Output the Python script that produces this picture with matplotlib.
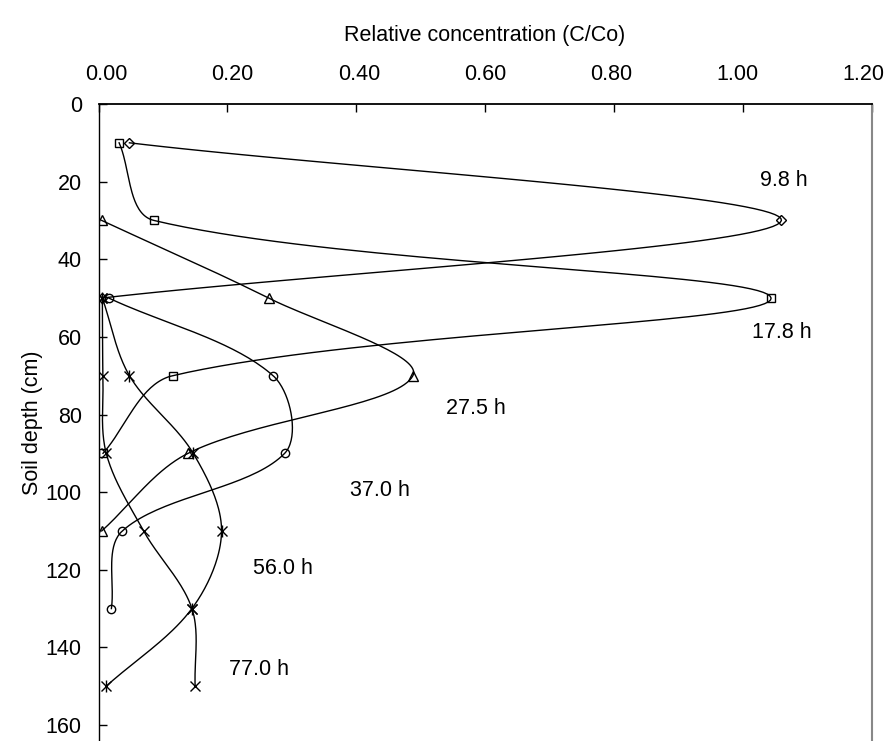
import numpy as np
import matplotlib
matplotlib.use("Agg")
import matplotlib.pyplot as plt
from matplotlib.transforms import ScaledTranslation

plt.rcParams['font.family'] = ['Liberation Sans', 'DejaVu Sans']

# Relative concentration (C/Co) profiles with soil depth at successive times
times = ["9.8 h", "17.8 h", "27.5 h", "37.0 h", "56.0 h", "77.0 h"]

depth_98 = [10, 30, 50]
conc_98 = [0.048, 1.060, 0.005]

depth_178 = [10, 30, 50, 70, 90]
conc_178 = [0.032, 0.086, 1.044, 0.115, 0.007]

depth_275 = [30, 50, 70, 90, 110]
conc_275 = [0.005, 0.264, 0.488, 0.139, 0.005]

depth_370 = [50, 70, 90, 110, 130]
conc_370 = [0.016, 0.271, 0.289, 0.037, 0.020]

depth_560 = [50, 70, 90, 110, 130, 150]
conc_560 = [0.006, 0.048, 0.147, 0.191, 0.145, 0.012]

depth_770 = [50, 70, 90, 110, 130, 150]
conc_770 = [0.006, 0.007, 0.012, 0.070, 0.145, 0.150]

# label anchor positions (concentration, depth)
label_x = [1.064, 1.061, 0.586, 0.437, 0.287, 0.249]
label_y = [19.8, 59.0, 78.4, 99.5, 119.6, 145.6]

x_ticks = [0.0, 0.2, 0.4, 0.6, 0.8, 1.0, 1.2]
y_ticks = [0, 20, 40, 60, 80, 100, 120, 140, 160]

series = [
    (conc_98, depth_98, 'D'),
    (conc_178, depth_178, 's'),
    (conc_275, depth_275, '^'),
    (conc_370, depth_370, 'o'),
    (conc_560, depth_560, '*'),
    (conc_770, depth_770, 'x'),
]

W, H = 896, 741
top_px, depth160_px = 104, 725
px_per_cm = (depth160_px - top_px) / 160.0
fig = plt.figure(figsize=(W / 100, H / 100), dpi=100)
ax = fig.add_axes([98.5 / W, 0, (871.6 - 98.5) / W, (H - top_px) / H])
ax.set_xlim(0, 1.2)
ax.set_ylim(160 + (H - depth160_px) / px_per_cm, 0)


def smooth_curve(xs, ys, n=40):
    """Bezier smoothing in display space with length-weighted tangents."""
    pts = ax.transData.transform(np.column_stack([xs, ys]))
    m = len(pts)
    out = [pts[0]]
    for i in range(m - 1):
        p0 = pts[i - 1] if i > 0 else pts[i]
        p1 = pts[i]
        p2 = pts[i + 1]
        p3 = pts[i + 2] if i + 2 < m else pts[i + 1]
        d01 = np.hypot(*(p1 - p0))
        d12 = np.hypot(*(p2 - p1))
        d23 = np.hypot(*(p3 - p2))
        f1 = d12 / (d01 + d12) if d01 + d12 > 0 else 0
        f2 = d12 / (d12 + d23) if d12 + d23 > 0 else 0
        c1 = p1 + (p2 - p0) * f1 / 3.0
        c2 = p2 - (p3 - p1) * f2 / 3.0
        t = np.linspace(0, 1, n)[1:, None]
        seg = ((1 - t) ** 3) * p1 + 3 * ((1 - t) ** 2) * t * c1 \
            + 3 * (1 - t) * t ** 2 * c2 + t ** 3 * p2
        out.extend(seg)
    out = np.array(out)
    return ax.transData.inverted().transform(out)


for xs, ys, mk in series:
    curve = smooth_curve(xs, ys)
    ax.plot(curve[:, 0], curve[:, 1], color='black', lw=1.0, zorder=2)
    if mk == '*':
        ax.plot(xs, ys, linestyle='none', marker='x', ms=7, mew=1.0,
                color='black', zorder=3)
        ax.plot(xs, ys, linestyle='none', marker='|', ms=8, mew=1.0,
                color='black', zorder=3)
    elif mk == 'x':
        ax.plot(xs, ys, linestyle='none', marker='x', ms=7, mew=1.0,
                color='black', zorder=3)
    else:
        ms = {'D': 5, 's': 5.5, '^': 6.5, 'o': 6}[mk]
        ax.plot(xs, ys, linestyle='none', marker=mk, ms=ms, mew=1.0,
                mfc='none', mec='black', zorder=3)

for txt, lx, ly in zip(times, label_x, label_y):
    ax.text(lx, ly, txt, ha='center', va='center', fontsize=15.5)

ax.xaxis.tick_top()
ax.xaxis.set_label_position('top')
ax.set_xticks(x_ticks)
ax.set_xticklabels([f"{v:.2f}" for v in x_ticks])
ax.set_yticks(y_ticks)
ax.set_yticklabels([str(v) for v in y_ticks])
ax.tick_params(axis='both', direction='in', length=6, width=1.0,
               labelsize=15.5, color='black')
ax.tick_params(axis='x', pad=14)
ax.tick_params(axis='y', pad=12)

# the category labels sit slightly inward from the outer ticks
for v, lab in zip(x_ticks, ax.get_xticklabels()):
    dx = (8 - 16 * v / 1.2) / 100.0
    lab.set_transform(lab.get_transform() + ScaledTranslation(dx, 0, fig.dpi_scale_trans))

ax.set_xlabel("Relative concentration (C/Co)", fontsize=15.5, labelpad=16)
ax.set_ylabel("Soil depth (cm)", fontsize=15.5, labelpad=2)

ax.spines['top'].set_linewidth(1.3)
ax.spines['left'].set_linewidth(1.0)
ax.spines['right'].set_color('#888888')
ax.spines['right'].set_linewidth(1.5)
ax.spines['bottom'].set_visible(False)

fig.savefig("out.png", dpi=100)
